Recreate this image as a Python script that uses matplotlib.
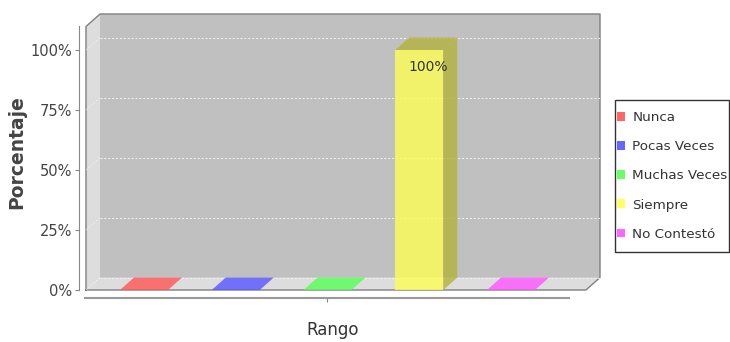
import matplotlib.pyplot as plt
from matplotlib.patches import Polygon, Rectangle, Patch
from matplotlib.colors import to_rgb

# datos
categories = ['Nunca', 'Pocas Veces', 'Muchas Veces', 'Siempre', 'No Contestó']
values = [0, 0, 0, 100, 0]
colors = ['#FF5555', '#5555FF', '#55FF55', '#FFFF55', '#FF55FF']
yticks = [0, 25, 50, 75, 100]
ytick_labels = ['0%', '25%', '50%', '75%', '100%']

plt.rcParams['font.family'] = ['DejaVu Sans']

fig = plt.figure(figsize=(7.3, 3.42), dpi=100)
ax = fig.add_axes([86 / 730, 52 / 342, 514 / 730, 276 / 342])

# limites y profundidad 3D (en unidades de datos)
xmin, xmax = -0.632, 4.97
ymin, ymax = 0, 115
dx, dy = 0.153, 5.2
w = 0.523
ax.set_xlim(xmin, xmax)
ax.set_ylim(ymin, ymax)

# paredes del grafico 3D
ax.add_patch(Rectangle((xmin + dx, dy), xmax - xmin - dx, ymax - dy, fc='#C0C0C0', ec='none', zorder=0))
ax.add_patch(Polygon([(xmin, 0), (xmin + dx, dy), (xmin + dx, ymax), (xmin, ymax - dy)],
                     closed=True, fc='#DDDDDD', ec='none', zorder=0))
ax.add_patch(Polygon([(xmin, 0), (xmax - dx, 0), (xmax, dy), (xmin + dx, dy)],
                     closed=True, fc='#DDDDDD', ec='none', zorder=0))
ax.plot([xmin, xmin, xmin + dx, xmax, xmax, xmax - dx, xmin],
        [0, ymax - dy, ymax, ymax, dy, 0, 0], color='#808080', lw=1, zorder=1, clip_on=False)

# lineas de la rejilla
for v in yticks:
    ax.plot([xmin + dx, xmax], [v + dy, v + dy], color='#F4F4F4', ls=(0, (2, 2)), lw=0.7, zorder=1)
    ax.plot([xmin, xmin + dx], [v, v + dy], color='white', ls=(0, (2, 2)), lw=0.6, alpha=0.6, zorder=1)

# barras 3D
for i, (v, c) in enumerate(zip(values, colors)):
    x0, x1 = i - w / 2, i + w / 2
    dark = tuple(ch * 0.7 for ch in to_rgb(c))
    top_c = dark if v > 0 else c
    ax.add_patch(Polygon([(x0, v), (x1, v), (x1 + dx, v + dy), (x0 + dx, v + dy)],
                         closed=True, fc=top_c, ec='none', alpha=0.8, zorder=2))
    if v > 0:
        ax.add_patch(Rectangle((x0, 0), w, v, fc=c, ec='none', alpha=0.8, zorder=3))
        ax.add_patch(Polygon([(x1, 0), (x1 + dx, dy), (x1 + dx, v + dy), (x1, v)],
                             closed=True, fc=dark, ec='none', alpha=0.8, zorder=2))
        ax.text(i + dx / 2 + 0.02, v - 7, '%d%%' % v, ha='center', va='center',
                fontsize=10, color='#333333', zorder=4)

# ejes
for s in ['top', 'right']:
    ax.spines[s].set_visible(False)
ax.spines['left'].set_position(('outward', 5))
ax.spines['left'].set_bounds(0, ymax - dy)
ax.spines['left'].set_color('#888888')
ax.spines['bottom'].set_position(('outward', 6))
ax.spines['bottom'].set_bounds(-0.643, 4.63)
ax.spines['bottom'].set_color('#999999')
ax.spines['bottom'].set_linewidth(1.5)
ax.set_yticks(yticks, ytick_labels)
ax.set_xticks([2], [''])
ax.tick_params(axis='y', length=3, color='#888888', labelcolor='#444444', labelsize=10.5, pad=2)
ax.tick_params(axis='x', length=3, color='#888888')

fig.text(17 / 730, 1 - 152 / 342, 'Porcentaje', rotation=90, ha='center', va='center',
         fontsize=13.5, fontweight='bold', color='#444444')
fig.text(333 / 730, 1 - 330 / 342, 'Rango', ha='center', va='center', fontsize=12, color='#333333')

# leyenda (marco dibujado aparte)
fig.add_artist(Rectangle((615 / 730, 1 - 252 / 342), 114 / 730, 152 / 342, transform=fig.transFigure,
                         fc='white', ec='#333333', lw=1))
handles = [Patch(fc=c, ec='none', alpha=0.9) for c in colors]
leg = fig.legend(handles, categories, loc='upper left', bbox_to_anchor=(617 / 730, 1 - 111 / 342),
                 frameon=False, fontsize=9.7,
                 handlelength=0.6, handleheight=0.6, handletextpad=0.55, labelspacing=1.2,
                 borderpad=0, borderaxespad=0)
for t in leg.get_texts():
    t.set_color('#333333')

fig.savefig('out.png', dpi=100)
